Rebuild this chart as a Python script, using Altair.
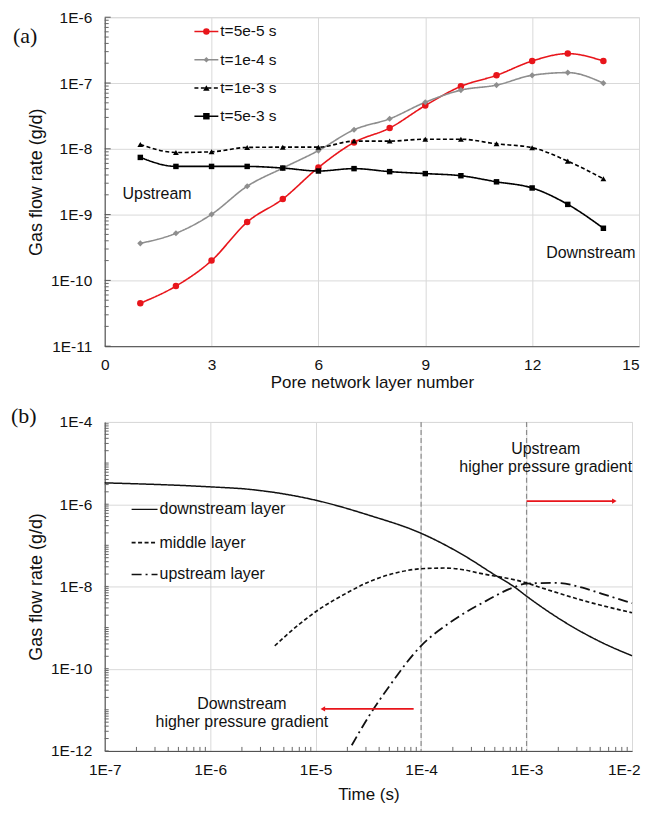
import altair as alt
import pandas as pd

# ---------------- Panel (a) data ----------------
layers = list(range(1, 15))
series_a = ["t=5e-5 s", "t=1e-4 s", "t=1e-3 s", "t=5e-3 s"]
flow_5e5 = [4.5e-11, 8.2e-11, 2.0e-10, 7.7e-10, 1.73e-9, 5.2e-9, 1.25e-8,
            2.07e-8, 4.55e-8, 8.9e-8, 1.31e-7, 2.16e-7, 2.8e-7, 2.16e-7]
flow_1e4 = [3.66e-10, 5.2e-10, 1.01e-9, 2.7e-9, 5.1e-9, 9.4e-9, 1.95e-8,
            2.86e-8, 5.1e-8, 7.8e-8, 9.3e-8, 1.31e-7, 1.44e-7, 9.95e-8]
flow_1e3 = [1.16e-8, 8.8e-9, 9.0e-9, 1.05e-8, 1.06e-8, 1.06e-8, 1.31e-8,
            1.31e-8, 1.40e-8, 1.40e-8, 1.19e-8, 1.04e-8, 6.5e-9, 3.5e-9]
flow_5e3 = [7.4e-9, 5.4e-9, 5.4e-9, 5.4e-9, 5.1e-9, 4.6e-9, 5.0e-9,
            4.5e-9, 4.2e-9, 3.9e-9, 3.15e-9, 2.54e-9, 1.43e-9, 6.2e-10]
colors_a = ["#e8151b", "#8e8e8e", "#000000", "#000000"]
dashes_a = [[1, 0], [1, 0], [4, 2.5], [1, 0]]
shapes_a = ["circle", "diamond", "triangle-up", "square"]
sizes_a = [42, 30, 42, 42]
xa_ticks = [0, 3, 6, 9, 12, 15]
ya_ticks = [1e-11, 1e-10, 1e-9, 1e-8, 1e-7, 1e-6]
notes_a_text = ["Upstream", "Downstream"]
notes_a_x = [1.47, 13.65]
notes_a_y = [2.06e-9, 2.57e-10]

# ---------------- Panel (b) data ----------------
series_b = ["downstream layer", "middle layer", "upstream layer"]
t_down = [1e-7, 1e-6, 2.3e-6, 1e-5, 3.2e-5, 1e-4, 2.8e-4, 4.7e-4, 7.9e-4,
          1e-3, 2.5e-3, 5.2e-3, 1e-2]
f_down = [3.3e-6, 2.64e-6, 2.31e-6, 1.25e-6, 5.4e-7, 1.96e-7, 4.9e-8, 2.1e-8,
          9.2e-9, 5.8e-9, 1.19e-9, 4.3e-10, 2.06e-10]
t_mid = [4.1e-6, 6.9e-6, 1e-5, 2.07e-5, 3.2e-5, 5.7e-5, 1e-4, 1.7e-4, 2.5e-4,
         3.5e-4, 1e-3, 1.4e-3, 3.6e-3, 1e-2]
f_mid = [3.6e-10, 1.17e-9, 2.42e-9, 7.4e-9, 1.29e-8, 2.12e-8, 2.69e-8, 2.8e-8,
         2.55e-8, 2.12e-8, 1.22e-8, 9.2e-9, 4.4e-9, 2.29e-9]
t_up = [2.2e-5, 3.2e-5, 4.9e-5, 1e-4, 1.97e-4, 4.1e-4, 7.3e-4, 1e-3, 1.9e-3,
        3.4e-3, 5.2e-3, 1e-2]
f_up = [1.37e-12, 7e-12, 3.5e-11, 3.6e-10, 1.44e-9, 4.4e-9, 9.2e-9, 1.17e-8,
        1.22e-8, 9.3e-9, 6.6e-9, 3.9e-9]
dashes_b = [[1, 0], [4, 2.5], [10, 4, 2, 4]]
widths_b = [1.5, 1.8, 1.6]
xb_ticks = [1e-7, 1e-6, 1e-5, 1e-4, 1e-3, 1e-2]
yb_ticks = [1e-12, 1e-10, 1e-8, 1e-6, 1e-4]
vlines_b = [1e-4, 1e-3]
arrow_x0 = [1e-3, 8.5e-5]
arrow_x1 = [6.8e-3, 1.17e-5]
arrow_y = [1.19e-6, 1.05e-11]
arrow_head = ["triangle-right", "triangle-left"]
notes_b_text = ["Upstream", "higher pressure gradient",
                "Downstream", "higher pressure gradient"]
notes_b_x = [1.52e-3, 1.52e-3, 2.0e-6, 2.0e-6]
notes_b_y = [2.22e-5, 8.0e-6, 1.39e-11, 5.0e-12]

FONT = "Liberation Sans"
SERIF = "Liberation Serif"
GRID = "#d9d9d9"
LABEL_EXPR = "'1E' + round(log(datum.value) / LN10)"

WA, HA = 536, 330
WB, HB = 529, 330


def minor_log(lo, hi, ks):
    out = []
    e = lo
    while e < hi:
        for k in ks:
            out.append(k * 10.0 ** e)
        e += 1
    return out


def common_axis(**kw):
    base = dict(ticks=False, labelFont=FONT, labelFontSize=15.5, labelColor="#111",
                titleFont=FONT, titleFontWeight="normal", titleColor="#111",
                domainColor="#444", grid=True, gridColor=GRID, labelFlush=False)
    base.update(kw)
    return alt.Axis(**base)


# ---------------- Panel (a) ----------------
df_a = pd.DataFrame({
    "layer": layers * 4,
    "flow": flow_5e5 + flow_1e4 + flow_1e3 + flow_5e3,
    "series": [s for s in series_a for _ in layers],
})

xs_a = alt.Scale(domain=[0, 15], nice=False, zero=False)
ys_a = alt.Scale(type="log", domain=[1e-11, 1e-6], nice=False)
ax_xa = common_axis(values=xa_ticks, title="Pore network layer number", labelPadding=11,
                    titleFontSize=17, titleY=28,
                    labelAlign={"expr": "datum.value >= 15 ? 'right' : 'center'"})
ax_ya = common_axis(values=ya_ticks, labelExpr=LABEL_EXPR, title="Gas flow rate (g/d)",
                    labelPadding=13, titleFontSize=18, titleX=-59)


def XA(f="layer"):
    return alt.X(f"{f}:Q", scale=xs_a, axis=ax_xa, title="Pore network layer number")


def YA(f="flow"):
    return alt.Y(f"{f}:Q", scale=ys_a, axis=ax_ya, title="Gas flow rate (g/d)")


col_a = alt.Color("series:N", scale=alt.Scale(domain=series_a, range=colors_a), legend=None)

lines_a = alt.Chart(df_a).mark_line(strokeWidth=1.6, interpolate="monotone").encode(
    x=XA(), y=YA(), color=col_a,
    strokeDash=alt.StrokeDash("series:N", scale=alt.Scale(domain=series_a, range=dashes_a), legend=None),
)
points_a = alt.Chart(df_a).mark_point(filled=True, opacity=1).encode(
    x=XA(), y=YA(), color=col_a,
    shape=alt.Shape("series:N", scale=alt.Scale(domain=series_a, range=shapes_a), legend=None),
    size=alt.Size("series:N", scale=alt.Scale(domain=series_a, range=sizes_a), legend=None),
)

ticks_a_major = alt.Chart(pd.DataFrame({"flow": ya_ticks})).mark_rule(color="#555").encode(
    y=YA(), x=alt.value(0), x2=alt.value(6))
ticks_a_minor = alt.Chart(pd.DataFrame({"flow": minor_log(-11, -6, range(2, 10))})).mark_rule(color="#666").encode(
    y=YA(), x=alt.value(0), x2=alt.value(4))

notes_a = alt.Chart(pd.DataFrame({"layer": notes_a_x, "flow": notes_a_y, "t": notes_a_text})).mark_text(
    font=FONT, fontSize=16, color="#111", align="center", baseline="middle").encode(
    x=XA(), y=YA(), text="t:N")

leg_a = []
leg_rows_a = [14.3, 42.7, 71, 99.3]
for i, s in enumerate(series_a):
    one = pd.DataFrame({"t": [s]})
    yy = leg_rows_a[i]
    leg_a.append(alt.Chart(one).mark_rule(color=colors_a[i], strokeWidth=1.6, strokeDash=dashes_a[i]).encode(
        x=alt.value(90), x2=alt.value(114), y=alt.value(yy)))
    leg_a.append(alt.Chart(one).mark_point(shape=shapes_a[i], filled=True, opacity=1, color=colors_a[i],
                                           size=sizes_a[i]).encode(x=alt.value(102), y=alt.value(yy)))
    leg_a.append(alt.Chart(one).mark_text(font=FONT, fontSize=15.5, color="#111", align="left",
                                          baseline="middle").encode(x=alt.value(116), y=alt.value(yy), text="t:N"))

tag_a = alt.Chart(pd.DataFrame({"t": ["(a)"]})).mark_text(
    font=SERIF, fontSize=22, color="#111", align="left", baseline="middle").encode(
    x=alt.value(-92), y=alt.value(19), text="t:N")

panel_a = alt.layer(lines_a, points_a, ticks_a_major, ticks_a_minor, notes_a, *leg_a, tag_a).properties(
    width=WA, height=HA)

# ---------------- Panel (b) ----------------
df_b = pd.DataFrame({
    "time": t_down + t_mid + t_up,
    "flow": f_down + f_mid + f_up,
    "series": [series_b[0]] * len(t_down) + [series_b[1]] * len(t_mid) + [series_b[2]] * len(t_up),
})
xs_b = alt.Scale(type="log", domain=[1e-7, 1e-2], nice=False)
ys_b = alt.Scale(type="log", domain=[1e-12, 1e-4], nice=False)
ax_xb = common_axis(values=xb_ticks, labelExpr=LABEL_EXPR, title="Time (s)", labelPadding=12,
                    titleFontSize=17, titleY=36,
                    labelAlign={"expr": "datum.value >= 0.005 ? 'right' : 'center'"},
                    labelOffset={"expr": "datum.value >= 0.005 ? 8 : 0"})
ax_yb = common_axis(values=yb_ticks, labelExpr=LABEL_EXPR, title="Gas flow rate (g/d)",
                    labelPadding=13, titleFontSize=18, titleX=-59)


def XB(f="time"):
    return alt.X(f"{f}:Q", scale=xs_b, axis=ax_xb, title="Time (s)")


def YB(f="flow"):
    return alt.Y(f"{f}:Q", scale=ys_b, axis=ax_yb, title="Gas flow rate (g/d)")


vl_b = alt.Chart(pd.DataFrame({"time": vlines_b})).mark_rule(
    color="#8c8c8c", strokeWidth=1.2, strokeDash=[5, 3]).encode(x=XB())

lines_b = alt.Chart(df_b).mark_line(color="#111", interpolate="monotone").encode(
    x=XB(), y=YB(),
    strokeDash=alt.StrokeDash("series:N", scale=alt.Scale(domain=series_b, range=dashes_b), legend=None),
    strokeWidth=alt.StrokeWidth("series:N", scale=alt.Scale(domain=series_b, range=widths_b), legend=None),
)

df_arrow = pd.DataFrame({"time": arrow_x0, "time2": arrow_x1, "flow": arrow_y, "head": arrow_head})
arrows_b = alt.Chart(df_arrow).mark_rule(color="#e8151b", strokeWidth=1.6).encode(
    x=XB(), x2="time2:Q", y=YB())
heads_b = alt.Chart(df_arrow).mark_point(filled=True, opacity=1, color="#e8151b", size=28).encode(
    x=XB("time2"), y=YB(),
    shape=alt.Shape("head:N", scale=alt.Scale(domain=arrow_head, range=arrow_head), legend=None))

notes_b = alt.Chart(pd.DataFrame({"time": notes_b_x, "flow": notes_b_y, "t": notes_b_text})).mark_text(
    font=FONT, fontSize=16, color="#111", align="center", baseline="middle").encode(
    x=XB(), y=YB(), text="t:N")

ticks_bx = alt.Chart(pd.DataFrame({"time": minor_log(-7, -2, range(2, 10))})).mark_rule(color="#666").encode(
    x=XB(), y=alt.value(HB), y2=alt.value(HB - 4))
ticks_by = alt.Chart(pd.DataFrame({"flow": minor_log(-12, -4, range(1, 10))})).mark_rule(color="#666").encode(
    y=YB(), x=alt.value(0), x2=alt.value(4))

leg_b = []
leg_rows_b = [87.7, 121, 153]
for i, s in enumerate(series_b):
    one = pd.DataFrame({"t": [s]})
    yy = leg_rows_b[i]
    leg_b.append(alt.Chart(one).mark_rule(color="#111", strokeWidth=widths_b[i], strokeDash=dashes_b[i]).encode(
        x=alt.value(27), x2=alt.value(53), y=alt.value(yy)))
    leg_b.append(alt.Chart(one).mark_text(font=FONT, fontSize=16, color="#111", align="left",
                                          baseline="middle").encode(x=alt.value(55), y=alt.value(yy), text="t:N"))

tag_b = alt.Chart(pd.DataFrame({"t": ["(b)"]})).mark_text(
    font=SERIF, fontSize=22, color="#111", align="left", baseline="middle").encode(
    x=alt.value(-94), y=alt.value(-6), text="t:N")

panel_b = alt.layer(vl_b, lines_b, ticks_bx, ticks_by, arrows_b, heads_b, notes_b, *leg_b, tag_b).properties(
    width=WB, height=HB)

chart = alt.vconcat(panel_a, panel_b, spacing=13).resolve_scale(
    color="independent", strokeDash="independent", shape="independent",
    size="independent", strokeWidth="independent"
).properties(
    padding={"left": 2, "top": 0, "right": 0, "bottom": 0}
).configure_view(stroke="#8a8a8a", strokeWidth=1).configure(background="white")

chart.save("out.html", embed_options={"renderer": "svg", "actions": False})
